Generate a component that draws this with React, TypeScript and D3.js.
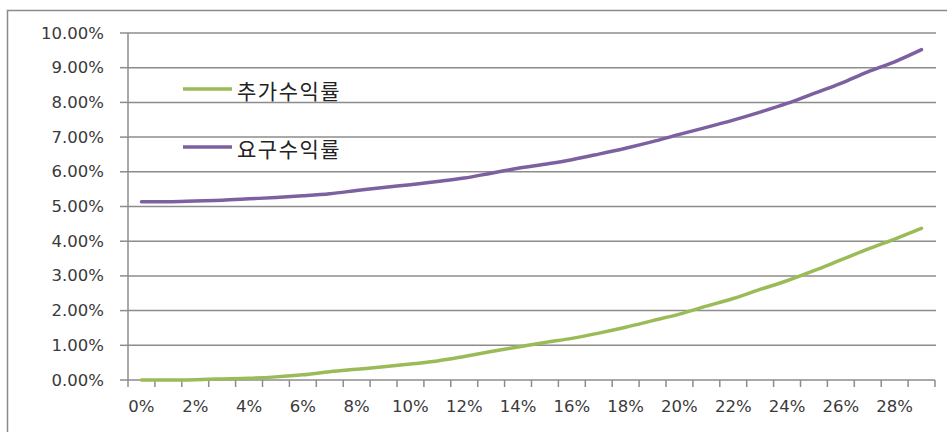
import React, { useEffect, useRef } from "react";
import * as d3 from "d3";

const categories: string[] = Array.from({ length: 30 }, (_, i) => `${i}%`);
const xTickLabels: string[] = ["0%", "2%", "4%", "6%", "8%", "10%", "12%", "14%", "16%", "18%", "20%", "22%", "24%", "26%", "28%"];
const yTicks: number[] = [0, 1, 2, 3, 4, 5, 6, 7, 8, 9, 10];

const seriesNames: string[] = ["추가수익률", "요구수익률"];
const extraReturn: number[] = [
  0.0, 0.0, 0.01, 0.03, 0.05, 0.09, 0.15, 0.24, 0.31, 0.38, 0.46, 0.55, 0.68, 0.82, 0.95,
  1.08, 1.2, 1.35, 1.52, 1.71, 1.9, 2.13, 2.35, 2.61, 2.86, 3.15, 3.46, 3.77, 4.06, 4.37,
];
const requiredReturn: number[] = [
  5.14, 5.14, 5.16, 5.18, 5.22, 5.26, 5.31, 5.37, 5.46, 5.55, 5.63, 5.72, 5.82, 5.96, 6.1,
  6.22, 6.35, 6.51, 6.68, 6.87, 7.08, 7.28, 7.49, 7.72, 7.97, 8.26, 8.55, 8.88, 9.17, 9.52,
];
const seriesColors: string[] = ["#9BBB59", "#7D60A0"];

export default function App() {
  const ref = useRef<SVGSVGElement | null>(null);

  useEffect(() => {
    const svg = d3.select(ref.current);
    svg.selectAll("*").remove();

    const W = 947, H = 432;
    const left = 128, right = 935, top = 33, bottom = 380;

    const x = d3.scaleBand<string>().domain(categories).range([left, right]).paddingInner(0).paddingOuter(0);
    const y = d3.scaleLinear().domain([0, 10]).range([bottom, top]);
    const cx = (c: string) => (x(c) as number) + x.bandwidth() / 2;

    svg.append("rect").attr("x", 0).attr("y", 0).attr("width", W).attr("height", H).attr("fill", "#fff");
    // outer frame
    svg.append("path")
      .attr("d", `M7.5,${H + 2} L7.5,10.5 L${W + 2},10.5`)
      .attr("fill", "none").attr("stroke", "#8a8a8a").attr("stroke-width", 1.5);

    // gridlines
    svg.append("g").selectAll("line").data(yTicks.filter((t) => t > 0)).join("line")
      .attr("x1", left).attr("x2", right + 1)
      .attr("y1", (d) => y(d)).attr("y2", (d) => y(d))
      .attr("stroke", "#8c8c8c").attr("stroke-width", 1.5);

    // y axis
    svg.append("line").attr("x1", left).attr("x2", left).attr("y1", top).attr("y2", bottom)
      .attr("stroke", "#8c8c8c").attr("stroke-width", 1.5);
    svg.append("g").selectAll("line").data(yTicks).join("line")
      .attr("x1", left - 8).attr("x2", left)
      .attr("y1", (d) => y(d)).attr("y2", (d) => y(d))
      .attr("stroke", "#8c8c8c").attr("stroke-width", 1.5);
    svg.append("g").selectAll("text").data(yTicks).join("text")
      .attr("x", 104).attr("y", (d) => y(d))
      .attr("text-anchor", "end").attr("dominant-baseline", "central")
      .attr("font-family", "DejaVu Sans, Verdana, sans-serif").attr("font-size", 16.5)
      .attr("fill", "#3a3a3a")
      .text((d) => `${d.toFixed(2)}%`);

    // x axis
    svg.append("line").attr("x1", left).attr("x2", right).attr("y1", bottom).attr("y2", bottom)
      .attr("stroke", "#8c8c8c").attr("stroke-width", 1.5);
    const tickPos = categories.map((c) => x(c) as number).concat([right]);
    svg.append("g").selectAll("line").data(tickPos).join("line")
      .attr("x1", (d) => d).attr("x2", (d) => d)
      .attr("y1", bottom).attr("y2", bottom + 7)
      .attr("stroke", "#8c8c8c").attr("stroke-width", 1.5);
    svg.append("g").selectAll("text").data(xTickLabels).join("text")
      .attr("x", (d) => cx(d)).attr("y", 406)
      .attr("text-anchor", "middle").attr("dominant-baseline", "central")
      .attr("font-family", "DejaVu Sans, Verdana, sans-serif").attr("font-size", 16.5)
      .attr("fill", "#3a3a3a")
      .text((d) => d);

    // lines
    const line = d3.line<number>()
      .x((_, i) => cx(categories[i]))
      .y((d) => y(d))
      .curve(d3.curveMonotoneX);
    [requiredReturn, extraReturn].forEach((vals, k) => {
      const color = k === 0 ? seriesColors[1] : seriesColors[0];
      svg.append("path").datum(vals).attr("d", line)
        .attr("fill", "none").attr("stroke", color).attr("stroke-width", 3.5)
        .attr("stroke-linejoin", "round").attr("stroke-linecap", "round");
    });

    // legend
    const legendY = [89, 147];
    seriesNames.forEach((name, i) => {
      const g = svg.append("g");
      g.append("line").attr("x1", 183).attr("x2", 232).attr("y1", legendY[i]).attr("y2", legendY[i])
        .attr("stroke", seriesColors[i]).attr("stroke-width", 3.5);
      g.append("text").attr("x", 237).attr("y", legendY[i] + 1)
        .attr("dominant-baseline", "central")
        .attr("font-family", "Noto Sans CJK KR, sans-serif").attr("font-size", 21)
        .attr("letter-spacing", 1.5).attr("fill", "#222")
        .text(name);
    });
  }, []);

  return (
    <svg ref={ref} width={947} height={432}
      style={{ position: "absolute", left: 0, top: 0, display: "block" }} />
  );
}
